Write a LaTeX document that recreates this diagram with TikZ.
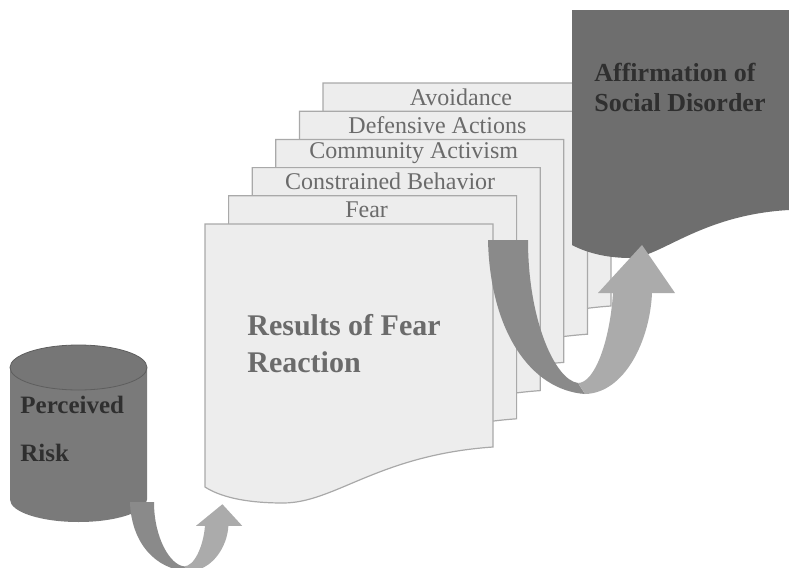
\documentclass[tikz,border=0pt]{standalone}
\usepackage{fontspec}
\setmainfont{Liberation Serif}

\definecolor{sheetfill}{HTML}{EDEDED}
\definecolor{sheetline}{HTML}{A9A9A9}
\definecolor{labelgray}{HTML}{6B6B6B}
\definecolor{boxgray}{HTML}{6E6E6E}
\definecolor{boxtextgray}{HTML}{2F2F2F}
\definecolor{cylbody}{HTML}{7A7A7A}
\definecolor{cylend}{HTML}{767676}
\definecolor{arrowdark}{HTML}{8A8A8A}
\definecolor{arrowlight}{HTML}{ABABAB}

\tikzset{
  sheetbox/.style = {fill=sheetfill, draw=sheetline, line width=0.6pt},
  sheetlabel/.style = {text=labelgray, font=\fontsize{12}{14}\selectfont, inner sep=0pt},
  resultslabel/.style = {text=labelgray, font=\fontsize{15}{18.5}\selectfont\bfseries, align=left, inner sep=0pt},
  affirmbox/.style = {fill=boxgray},
  affirmlabel/.style = {text=boxtextgray, font=\fontsize{13}{15}\selectfont\bfseries, align=left, inner sep=0pt},
  cylside/.style = {fill=cylbody},
  cyltop/.style = {fill=cylend, draw=cylend!80!black, line width=0.4pt},
  risklabel/.style = {text=boxtextgray, font=\fontsize{12.5}{15}\selectfont\bfseries, align=left, inner sep=0pt},
  sheet/.pic = {
    \path[sheetbox] (0,0) -- (288,0) -- (288,223)
      .. controls (173,231) and (130,279) .. (78,279)
      .. controls (38,279) and (14,272) .. (0,263) -- cycle;
  },
  bentarrow/.pic = {
    \fill[arrowdark] (0,0) .. controls (2,90) and (42,150) .. (97,154) -- (90,143)
      .. controls (67,140) and (40,80) .. (40,0) -- cycle;
    \fill[arrowlight] (97,154) .. controls (137,153) and (162,100) .. (164,53) -- (187,53) -- (154,5)
      -- (110,53) -- (125,53) .. controls (122,100) and (107,143) .. (90,143) -- cycle;
  }
}

\begin{document}
\begin{tikzpicture}[x=0.5pt, y=-0.5pt]
\useasboundingbox (0,0) rectangle (789,568);
\clip (0,0) rectangle (789,568);
\foreach \n/\lbl in {5/Avoidance, 4/Defensive Actions, 3/Community Activism, 2/Constrained Behavior, 1/Fear}{
  \pic at ({205+23.6*\n},{224-28.2*\n}) {sheet};
  \node[sheetlabel] (lbl\n) at ({205+23.6*\n+138},{224-28.2*\n+14}) {\lbl};
}
\pic at (205,224) {sheet};
\node[resultslabel, anchor=west] (results) at (247,344) {Results of Fear\\Reaction};
\path[affirmbox] (572,10) -- (789,10) -- (789,210)
  .. controls (700,215) and (660,258) .. (630,258)
  .. controls (605,258) and (585,252) .. (572,245) -- cycle;
\node[affirmlabel, anchor=west] (affirm) at (594,87) {Affirmation of\\Social Disorder};
\pic at (488,240) {bentarrow};
\path[cylside] (10,367.5) -- (10,499.5) arc[start angle=180, end angle=0, x radius=68.5, y radius=22.5]
  -- (147,367.5) -- cycle;
\path[cyltop] (78.5,367.5) ellipse [x radius=68.5, y radius=22.5];
\node[risklabel, anchor=west] (risk) at (20,429) {Perceived\\[9pt]Risk};
\pic[xscale=0.6, yscale=0.45] at (130,502) {bentarrow};
\end{tikzpicture}
\end{document}
